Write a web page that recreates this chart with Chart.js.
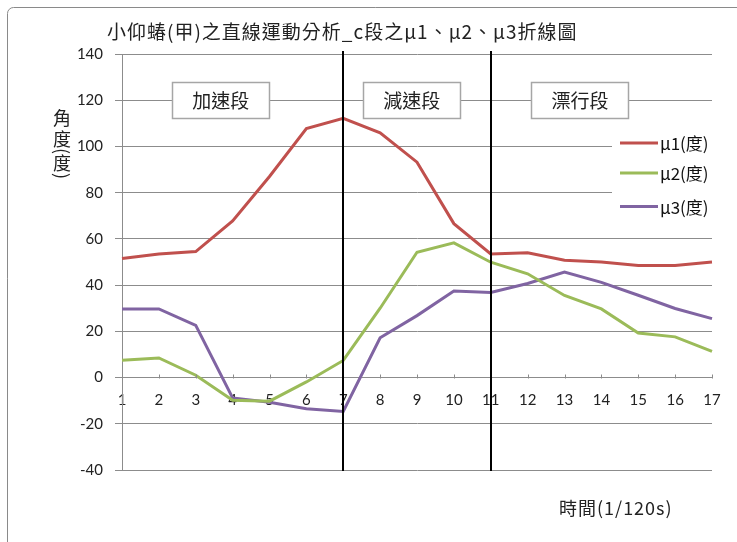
<!DOCTYPE html>
<html>
<head>
<meta charset="utf-8">
<script src="https://cdn.jsdelivr.net/npm/chart.js@4/dist/chart.umd.min.js"></script>
<style>
    html, body { margin: 0; padding: 0; background: #fff; }
    #wrap { position: relative; width: 737px; height: 542px; }
</style>
</head>
<body>
<div id="wrap"><canvas id="motionChart" width="737" height="542"></canvas></div>
<script>
/* --- chart data --- */
const timeLabels   = ["1", "2", "3", "4", "5", "6", "7", "8", "9", "10", "11", "12", "13", "14", "15", "16", "17"];
const mu1Values    = [51.5, 53.5, 54.5, 67.8, 87, 107.7, 112.2, 105.9, 93.2, 66.6, 53.5, 54, 50.8, 50, 48.5, 48.5, 50];
const mu2Values    = [7.5, 8.5, 1, -9.8, -10.2, -1.9, 7.4, 30, 54.2, 58.3, 49.9, 44.9, 35.5, 29.7, 19.3, 17.6, 11.3];
const mu3Values    = [29.7, 29.7, 22.6, -8.8, -10.7, -13.5, -14.7, 17.2, 26.8, 37.4, 36.8, 40.7, 45.6, 41.2, 35.6, 29.9, 25.5];
const seriesNames  = ["μ1(度)", "μ2(度)", "μ3(度)"];
const seriesColors = ["#C0504D", "#9BBB59", "#8064A2"];
const phaseDividers = ["7", "11"];
const phaseNames    = ["加速段", "減速段", "漂行段"];
const phaseLabelAt  = [3.68, 8.86, 13.42];   // time value at the centre of each phase label
const yTicks        = [-40, -20, 0, 20, 40, 60, 80, 100, 120, 140];

const chartTitle = "小仰蝽(甲)之直線運動分析_c段之μ1、μ2、μ3折線圖";
const yTitleChars = ["角", "度", "(", "度", ")"];
const xTitle = "時間(1/120s)";

const CJK_FONT = '"Noto Sans CJK TC", "Noto Sans", sans-serif';
const NUM_FONT = 'Lato, "Noto Sans", sans-serif';
const GRID_COLOR = "#8c8c8c";

// Everything that Chart.js does not draw by itself: frame, titles, legend, phase markers
const decorPlugin = {
    id: "decor",
    beforeDatasetsDraw(chart) {
        const { ctx, chartArea } = chart;
        // legend sits on a white box that hides the grid behind it
        ctx.save();
        ctx.fillStyle = "#fff";
        ctx.fillRect(chartArea.right - 100, chartArea.top + 74, 110, 94);
        ctx.restore();
    },
    afterDatasetsDraw(chart) {
        const { ctx, chartArea, scales: { x, y } } = chart;
        ctx.save();

        // small upward tick marks on the zero line
        const zeroY = Math.round(y.getPixelForValue(0)) + 0.5;
        ctx.strokeStyle = GRID_COLOR;
        ctx.lineWidth = 1;
        timeLabels.forEach((_, i) => {
            const px = Math.round(x.getPixelForValue(i)) + 0.5;
            ctx.beginPath();
            ctx.moveTo(px, zeroY);
            ctx.lineTo(px, zeroY - 4);
            ctx.stroke();
        });

        // phase divider lines
        ctx.strokeStyle = "#000";
        ctx.lineWidth = 2;
        phaseDividers.forEach(label => {
            const px = Math.round(x.getPixelForValue(timeLabels.indexOf(label)));
            ctx.beginPath();
            ctx.moveTo(px, chartArea.top - 3);
            ctx.lineTo(px, chartArea.bottom + 1);
            ctx.stroke();
        });

        // phase label boxes, centred on the 120 grid line
        const boxY = y.getPixelForValue(120);
        ctx.font = "19px " + CJK_FONT;
        ctx.textAlign = "center";
        ctx.textBaseline = "middle";
        phaseNames.forEach((name, i) => {
            const cx = x.getPixelForValue(phaseLabelAt[i] - 1);
            const w = ctx.measureText(name).width + 40;
            const h = 36;
            ctx.fillStyle = "#fff";
            ctx.fillRect(cx - w / 2, boxY - h / 2, w, h);
            ctx.strokeStyle = "#a6a6a6";
            ctx.lineWidth = 1.5;
            ctx.strokeRect(Math.round(cx - w / 2) + 0.5, Math.round(boxY - h / 2) + 0.5, Math.round(w), h);
            ctx.fillStyle = "#222";
            ctx.fillText(name, cx, boxY + 1);
        });

        // legend
        ctx.font = "17px " + CJK_FONT;
        ctx.textAlign = "left";
        const legendX = chartArea.right - 92;
        const legendRows = [y.getPixelForValue(101.5), y.getPixelForValue(88.5), y.getPixelForValue(74)];
        chart.data.datasets.forEach((ds, i) => {
            ctx.strokeStyle = ds.borderColor;
            ctx.lineWidth = 3;
            ctx.beginPath();
            ctx.moveTo(legendX, legendRows[i]);
            ctx.lineTo(legendX + 38, legendRows[i]);
            ctx.stroke();
            ctx.fillStyle = "#111";
            ctx.fillText(ds.label, legendX + 40, legendRows[i] + 1);
        });
        ctx.restore();
    },
    afterDraw(chart) {
        const { ctx, chartArea } = chart;
        ctx.save();

        // outer chart frame
        ctx.strokeStyle = "#8a8a8a";
        ctx.lineWidth = 1;
        ctx.beginPath();
        ctx.roundRect(7.5, 7.5, 760, 560, 6);
        ctx.stroke();

        ctx.fillStyle = "#222";
        ctx.textBaseline = "middle";

        // chart title
        ctx.font = "19px " + CJK_FONT;
        ctx.letterSpacing = "1px";
        ctx.textAlign = "left";
        ctx.fillText(chartTitle, 107, 32);
        ctx.letterSpacing = "0px";

        // y axis title, stacked vertically
        ctx.font = "18px " + CJK_FONT;
        ctx.textAlign = "center";
        const stackY = [118, 139, 151, 163, 176];
        yTitleChars.forEach((ch, i) => {
            ctx.save();
            ctx.translate(62, stackY[i]);
            if (ch === "(" || ch === ")") ctx.rotate(Math.PI / 2);
            ctx.fillText(ch, 0, 0);
            ctx.restore();
        });

        // x axis title
        ctx.font = "18px " + CJK_FONT;
        ctx.letterSpacing = "1px";
        ctx.textAlign = "left";
        ctx.fillText(xTitle, 559, chartArea.bottom + 38);
        ctx.restore();
    }
};

new Chart(document.getElementById("motionChart"), {
    type: "line",
    data: {
        labels: timeLabels,
        datasets: [mu1Values, mu2Values, mu3Values].map((values, i) => ({
            label: seriesNames[i],
            data: values,
            borderColor: seriesColors[i],
            backgroundColor: seriesColors[i],
            borderWidth: 3,
            pointRadius: 0,
            tension: 0,
            fill: false
        }))
    },
    options: {
        responsive: false,
        animation: false,
        devicePixelRatio: 1,
        layout: { padding: { left: 0, top: 54, right: 25, bottom: 72 } },
        plugins: {
            legend: { display: false },
            title: { display: false },
            tooltip: { enabled: false }
        },
        scales: {
            x: {
                type: "category",
                offset: false,
                position: { y: 0 },
                grid: { drawOnChartArea: false, drawTicks: false },
                border: { color: GRID_COLOR, width: 1 },
                ticks: {
                    color: "#222",
                    font: { family: NUM_FONT, size: 15 },
                    padding: 14,
                    maxRotation: 0,
                    autoSkip: false
                }
            },
            y: {
                min: -40,
                max: 140,
                afterBuildTicks: scale => { scale.ticks = yTicks.map(v => ({ value: v })); },
                afterFit: scale => { scale.width = 122; },
                grid: { color: GRID_COLOR, lineWidth: 1, tickLength: 7 },
                border: { color: GRID_COLOR, width: 1 },
                ticks: {
                    color: "#222",
                    font: { family: NUM_FONT, size: 15 },
                    padding: 12
                }
            }
        }
    },
    plugins: [decorPlugin]
});
</script>
</body>
</html>
